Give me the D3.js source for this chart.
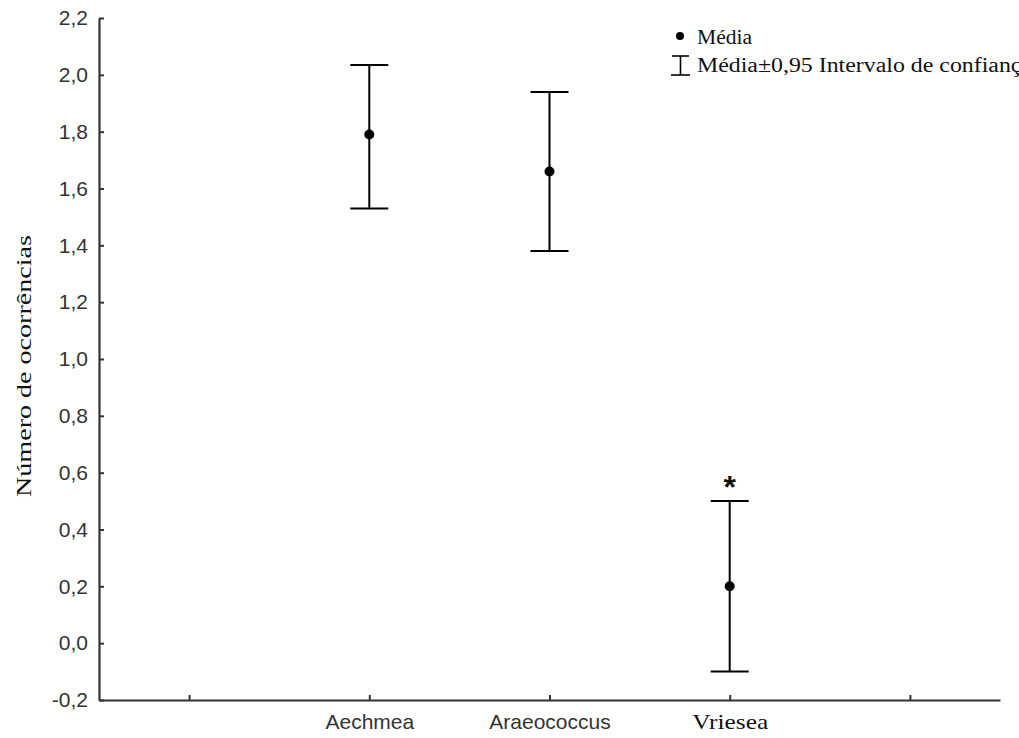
<!DOCTYPE html>
<html>
<head>
<meta charset="utf-8">
<script src="https://cdn.jsdelivr.net/npm/d3@7"></script>
<style>
  html, body { margin: 0; padding: 0; background: #fff; }
  svg { display: block; }
</style>
</head>
<body>
<svg id="chart" width="1019" height="738"></svg>
<script>
// ---- data ----
const axisSlots = ["slot0", "Aechmea", "Araeococcus", "Vriesea", "slot4"];
const categories = ["Aechmea", "Araeococcus", "Vriesea"];
const means = [1.79, 1.66, 0.20];
const lowerCI = [1.53, 1.38, -0.10];
const upperCI = [2.035, 1.94, 0.50];
const yTicks = [-0.2, 0.0, 0.2, 0.4, 0.6, 0.8, 1.0, 1.2, 1.4, 1.6, 1.8, 2.0, 2.2];
const yLabel = "Número de ocorrências";
const legendMean = "Média";
const legendCI = "Média±0,95 Intervalo de confiança";
const markedCategory = "Vriesea";

// ---- layout ----
const svg = d3.select("#chart");
const mLeft = 99, mRight = 1000, mTop = 18, mBottom = 700;

const x = d3.scalePoint().domain(axisSlots).range([mLeft, mRight]).padding(0.5);
const y = d3.scaleLinear().domain([-0.2, 2.2]).range([mBottom, mTop]);

const fmt = v => d3.format(".1f")(v).replace(".", ",").replace("\u2212", "-");

// y axis
const gy = svg.append("g")
  .attr("transform", `translate(${mLeft},0)`)
  .call(d3.axisLeft(y).tickValues(yTicks).tickFormat(fmt).tickSize(-5).tickSizeOuter(0).tickPadding(11));
gy.select(".domain").attr("stroke", "#333").attr("stroke-width", 2.2);
gy.selectAll(".tick line").attr("stroke", "#333").attr("stroke-width", 2);
gy.selectAll(".tick text")
  .attr("fill", "#333")
  .style("font-family", "'Liberation Sans', Arial, sans-serif")
  .style("font-size", "21px");

// x axis
const gx = svg.append("g")
  .attr("transform", `translate(0,${mBottom})`)
  .call(d3.axisBottom(x).tickFormat(d => categories.includes(d) ? d : "").tickSize(-5).tickSizeOuter(0).tickPadding(14));
gx.select(".domain").attr("stroke", "#333").attr("stroke-width", 2.2);
gx.selectAll(".tick line").attr("stroke", "#333").attr("stroke-width", 2);
gx.selectAll(".tick text")
  .attr("fill", "#333")
  .style("font-family", "'Liberation Sans', Arial, sans-serif")
  .style("font-size", "21px");
gx.selectAll(".tick text").filter(d => d === markedCategory)
  .attr("fill", "#111")
  .style("font-family", "'Liberation Serif', 'Times New Roman', serif")
  .style("font-size", "21px")
  .attr("textLength", 76)
  .attr("lengthAdjust", "spacingAndGlyphs");

// error bars
const capHalf = 19;
const bars = svg.append("g").attr("class", "bars");
categories.forEach((c, i) => {
  const cx = x(c);
  bars.append("line").attr("x1", cx).attr("x2", cx)
    .attr("y1", y(upperCI[i])).attr("y2", y(lowerCI[i]))
    .attr("stroke", "#000").attr("stroke-width", 2);
  bars.append("line").attr("x1", cx - capHalf).attr("x2", cx + capHalf)
    .attr("y1", y(upperCI[i])).attr("y2", y(upperCI[i]))
    .attr("stroke", "#000").attr("stroke-width", 2);
  bars.append("line").attr("x1", cx - capHalf).attr("x2", cx + capHalf)
    .attr("y1", y(lowerCI[i])).attr("y2", y(lowerCI[i]))
    .attr("stroke", "#000").attr("stroke-width", 2);
  bars.append("circle").attr("cx", cx).attr("cy", y(means[i])).attr("r", 5).attr("fill", "#000");
});

// asterisk above marked category
const mi = categories.indexOf(markedCategory);
svg.append("text")
  .attr("x", x(markedCategory))
  .attr("y", y(upperCI[mi]) - 3)
  .attr("text-anchor", "middle")
  .style("font-family", "'Liberation Sans', Arial, sans-serif")
  .style("font-size", "32px")
  .style("font-weight", "bold")
  .attr("fill", "#111")
  .text("*");

// y label
svg.append("text")
  .attr("transform", "translate(31,366) rotate(-90)")
  .attr("text-anchor", "middle")
  .style("font-family", "'Liberation Serif', 'Times New Roman', serif")
  .style("font-size", "20px")
  .attr("fill", "#111")
  .attr("textLength", 262)
  .attr("lengthAdjust", "spacingAndGlyphs")
  .text(yLabel);

// legend
const lg = svg.append("g");
lg.append("circle").attr("cx", 680).attr("cy", 36).attr("r", 4).attr("fill", "#000");
lg.append("text").attr("x", 697).attr("y", 44)
  .style("font-family", "'Liberation Serif', 'Times New Roman', serif")
  .style("font-size", "20px").attr("fill", "#111")
  .attr("textLength", 55).attr("lengthAdjust", "spacingAndGlyphs")
  .text(legendMean);
lg.append("line").attr("x1", 680.5).attr("x2", 680.5).attr("y1", 56).attr("y2", 75).attr("stroke", "#000").attr("stroke-width", 1.6);
lg.append("line").attr("x1", 672).attr("x2", 689).attr("y1", 56).attr("y2", 56).attr("stroke", "#000").attr("stroke-width", 1.6);
lg.append("line").attr("x1", 671).attr("x2", 690).attr("y1", 75).attr("y2", 75).attr("stroke", "#000").attr("stroke-width", 1.6);
lg.append("text").attr("x", 697).attr("y", 72)
  .style("font-family", "'Liberation Serif', 'Times New Roman', serif")
  .style("font-size", "20px").attr("fill", "#111")
  .attr("textLength", 335).attr("lengthAdjust", "spacingAndGlyphs")
  .text(legendCI);
</script>
</body>
</html>
